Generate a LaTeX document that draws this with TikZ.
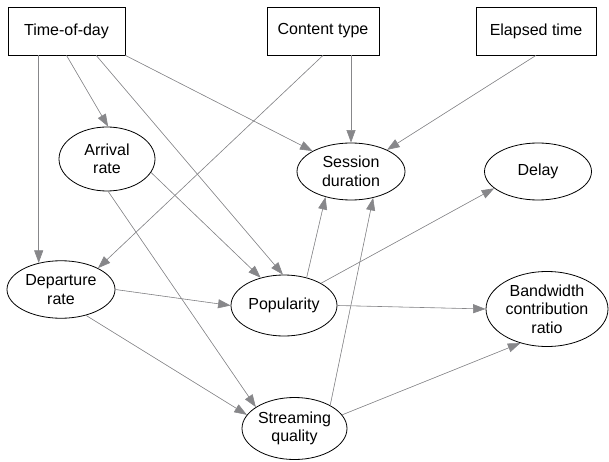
\documentclass[tikz,border=0pt]{standalone}
\usepackage{fontspec}
\setmainfont{Liberation Sans}
\usetikzlibrary{shapes.geometric,arrows.meta,calc}
\definecolor{edgegray}{RGB}{135,135,138}
\tikzset{
  box/.style={draw=black, line width=0.8pt, rectangle, inner sep=0pt, minimum height=48pt, font=\fontsize{16}{18.5}\selectfont},
  oval/.style={draw=black, line width=0.8pt, ellipse, inner sep=0pt, align=center, font=\fontsize{16}{18.5}\selectfont},
  edge/.style={draw=edgegray, line width=0.6pt, -{Triangle[length=12.5pt,width=9pt]}, fill=edgegray},
}
\begin{document}
\begin{tikzpicture}[x=1pt,y=-1pt]
\useasboundingbox (0,0) rectangle (609,462);
% nodes
\node[box, minimum width=117pt] (tod) at (66.5,31) {Time-of-day};
\node[box, minimum width=112pt] (ct) at (323,31) {Content type};
\node[box, minimum width=120pt] (el) at (536,31) {Elapsed time};
\node[oval, minimum width=96pt, minimum height=64pt] (arr) at (107,159) {Arrival\\rate};
\node[oval, minimum width=108pt, minimum height=57pt] (sess) at (351,171.5) {Session\\duration};
\node[oval, minimum width=107pt, minimum height=57pt] (delay) at (538,171.5) {Delay};
\node[oval, minimum width=108pt, minimum height=57.5pt] (dep) at (61,289.5) {Departure\\rate};
\node[oval, minimum width=106pt, minimum height=61pt] (pop) at (284,305.5) {Popularity};
\node[oval, minimum width=122pt, minimum height=75pt] (bw) at (547,309) {Bandwidth\\contribution\\ratio};
\node[oval, minimum width=105pt, minimum height=62pt] (sq) at (294.5,428.5) {Streaming\\quality};
% edges
\draw[edge] (dep.130 |- tod.south) -- (dep.130);
\draw[edge] (tod.south) -- (arr.88);
\draw[edge] ($(tod.south west)!0.752!(tod.south east)$) -- (pop.92);
\draw[edge] (tod.south east) -- (sess.152);
\draw[edge] (ct.south) -- (dep.30);
\draw[edge] (sess.north |- ct.south) -- (sess.north);
\draw[edge] (el.south) -- (sess.31);
\draw[edge] (arr.343) -- (pop.130);
\draw[edge] (arr.272) -- (sq.151);
\draw[edge] (dep.east) -- (pop.west);
\draw[edge] (dep.314) -- (sq.164);
\draw[edge] (pop.51) -- (sess.225);
\draw[edge] (sq.33) -- (sess.310);
\draw[edge] (pop.31) -- (delay.201);
\draw[edge] (pop.east) -- (bw.west);
\draw[edge] (sq.16) -- (bw.232);
\end{tikzpicture}
\end{document}
